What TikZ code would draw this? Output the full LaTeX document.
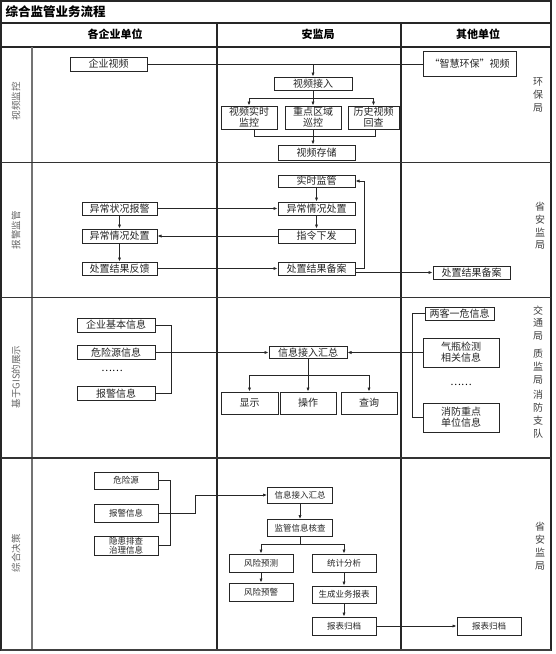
\documentclass[tikz,border=0pt]{standalone}
\usepackage{fontspec}
\setmainfont{Noto Sans CJK SC}
\usetikzlibrary{arrows.meta}
\begin{document}
\begin{tikzpicture}[x=1pt,y=-1pt,
  bx/.style={draw=black!85, line width=1pt, fill=white, inner sep=0pt, align=center,
             font=\fontsize{10}{11}\selectfont, text=black!85},
  bxs/.style={bx, font=\fontsize{8.5}{9.5}\selectfont},
  wh/.style 2 args={minimum width=#1, minimum height=#2},
  ln/.style={line width=0.7pt, draw=black!85},
  arr/.style={ln, -{Latex[length=4pt,width=3.2pt]}},
  lane/.style={rotate=90, font=\fontsize{9.5}{10}\selectfont, text=black!60},
  side/.style={align=center, font=\fontsize{10}{12.8}\selectfont, text=black!75},
  frame/.style={line width=1.1pt, draw=black!85},
  hdr/.style={font=\bfseries\fontsize{11}{12}\selectfont}
]
\useasboundingbox (0,0) rectangle (555,654);
% ---------- frame ----------
\draw[frame] (1,1) rectangle (551,650);
\draw[frame] (1,23) -- (551,23);
\draw[frame] (1,47) -- (551,47);
\draw[frame] (217,23) -- (217,650);
\draw[frame] (401,23) -- (401,650);
\draw[line width=1.8pt, draw=black!55] (32,47) -- (32,650);
\draw[line width=1.7pt, draw=black!80] (1,162.5) -- (551,162.5);
\draw[line width=1.7pt, draw=black!80] (1,297.5) -- (551,297.5);
\draw[line width=1.7pt, draw=black!80] (1,458) -- (551,458);
\draw[line width=1.8pt, draw=black!75] (1,650) -- (551,650);
% ---------- headers ----------
\node[font=\bfseries\fontsize{12.5}{14}\selectfont, anchor=west] (title) at (2,12) {综合监管业务流程};
\node[hdr] (h1) at (115,34) {各企业单位};
\node[hdr] (h2) at (318,34) {安监局};
\node[hdr] (h3) at (478,34) {其他单位};
% lane labels
\node[lane] (l1) at (16,101) {视频监控};
\node[lane] (l2) at (16,230) {报警监管};
\node[lane] (l3) at (16,377) {基于GIS的展示};
\node[lane] (l4) at (16,553) {综合决策};
% side labels
\node[side] (s1) at (538,95) {环\\保\\局};
\node[side] (s2) at (540,226) {省\\安\\监\\局};
\node[side] (s3) at (538,323) {交\\通\\局};
\node[side] (s4) at (538,367) {质\\监\\局};
\node[side] (s5) at (538,414) {消\\防\\支\\队};
\node[side] (s6) at (540,546) {省\\安\\监\\局};
% ---------- row 1 ----------
\node[bx,wh={77}{14}] (qysp) at (108.5,64) {企业视频};
\node[bx,wh={93}{25}] (zhhb) at (469.5,63.5) {“智慧环保”视频};
\node[bx,wh={78}{13}] (spjr) at (313,83.5) {视频接入};
\node[bx,wh={56}{23}] (spss) at (249,117.5) {视频实时\\监控};
\node[bx,wh={56}{23}] (zdqy) at (313,117.5) {重点区域\\巡控};
\node[bx,wh={51}{23}] (lssp) at (373.5,117.5) {历史视频\\回查};
\node[bx,wh={77}{15}] (spcc) at (316.5,152.5) {视频存储};
\draw[ln] (qysp.east) -- (zhhb.west |- qysp.east);
\draw[arr] (spjr.north |- qysp.east) -- (spjr.north);
\draw[arr] (spjr.south) -- ++(0,7.5) -| (spss.north);
\draw[arr] (spjr.south) -- ++(0,7.5) -| (lssp.north);
\draw[arr] (spjr.south) -- (zdqy.north);
\draw[ln] ([xshift=5]spss.south) -- ++(0,6.5) -| ([xshift=1.5]lssp.south);
\draw[arr] (zdqy.south) -- (zdqy.south |- spcc.north);
% ---------- row 2 ----------
\node[bx,wh={75}{13}] (ycbj) at (119.5,208.5) {异常状况报警};
\node[bx,wh={75}{14}] (yccz1) at (119.5,236) {异常情况处置};
\node[bx,wh={75}{13}] (czfk) at (119.5,268.5) {处置结果反馈};
\node[bx,wh={77}{12}] (sszg) at (316.5,181) {实时监管};
\node[bx,wh={77}{13}] (yccz2) at (316.5,208.5) {异常情况处置};
\node[bx,wh={77}{14}] (zlxf) at (316.5,236) {指令下发};
\node[bx,wh={77}{13}] (czba) at (316.5,268.5) {处置结果备案};
\node[bx,wh={77}{13}] (czba2) at (471.5,272.5) {处置结果备案};
\draw[arr] (ycbj) -- (yccz1);
\draw[arr] (yccz1) -- (czfk);
\draw[arr] (ycbj.east) -- (yccz2.west);
\draw[arr] (zlxf.west) -- (yccz1.east);
\draw[arr] (czfk.east) -- (czba.west);
\draw[arr] (sszg) -- (yccz2);
\draw[arr] (yccz2) -- (zlxf);
\draw[arr] (czba.east) -- ++(9,0) |- (sszg.east);
\draw[arr] (czba.east |- czba2.west) -- (czba2.west);
% ---------- row 3 ----------
\node[bx,wh={78}{14}] (qyjb) at (116,325) {企业基本信息};
\node[bx,wh={78}{14}] (wxy) at (116,352.5) {危险源信息};
\node[font=\fontsize{10}{11}\selectfont] (d1) at (112,371) {……};
\node[bx,wh={78}{14}] (bjxx) at (116,393.5) {报警信息};
\node[bx,wh={78}{12}] (xxjr) at (308,352.5) {信息接入汇总};
\node[bx,wh={57}{22}] (xs) at (249.5,403) {显示};
\node[bx,wh={56}{22}] (cz) at (308,403) {操作};
\node[bx,wh={56}{22}] (cx) at (369,403) {查询};
\node[bx,wh={69}{13}] (lkyw) at (459.5,313.5) {两客一危信息};
\node[bx,wh={76}{29}] (qpjc) at (461,352.5) {气瓶检测\\相关信息};
\node[font=\fontsize{10}{11}\selectfont] (d2) at (461,385) {……};
\node[bx,wh={76}{29}] (xfzd) at (461,417.5) {消防重点\\单位信息};
\draw[ln] (qyjb.east) -- ++(16,0) |- (bjxx.east);
\draw[arr] (wxy.east) -- (xxjr.west);
\draw[ln] (lkyw.west) -- ++(-12,0) |- (xfzd.west);
\draw[arr] (qpjc.west) -- (xxjr.east);
\draw[arr] (xxjr.south) -- ++(0,16) -| (xs.north);
\draw[arr] (xxjr.south) -- ++(0,16) -| (cx.north);
\draw[arr] (xxjr.south) -- (cz.north);
% ---------- row 4 ----------
\node[bxs,wh={64}{17}] (wxy4) at (126,480.5) {危险源};
\node[bxs,wh={64}{18}] (bjxx4) at (126,513) {报警信息};
\node[bxs,wh={64}{19}, font=\fontsize{8.5}{9}\selectfont] (yhpc) at (126,545.5) {隐患排查\\治理信息};
\node[bxs,wh={65}{16}] (xxjr4) at (300,495) {信息接入汇总};
\node[bxs,wh={65}{17}] (jgxx) at (300,528) {监管信息核查};
\node[bxs,wh={64}{18}] (fxyc) at (261,563) {风险预测};
\node[bxs,wh={64}{18}] (fxyj) at (261,592) {风险预警};
\node[bxs,wh={64}{18}] (tjfx) at (344,563) {统计分析};
\node[bxs,wh={64}{17}] (scyw) at (344,594.5) {生成业务报表};
\node[bxs,wh={64}{18}] (bbgd) at (344,626) {报表归档};
\node[bxs,wh={64}{18}] (bbgd2) at (489,626) {报表归档};
\draw[ln] (wxy4.east) -- ++(12,0) |- (yhpc.east);
\draw[arr] (bjxx4.east) -- ++(37,0) |- (xxjr4.west);
\draw[arr] (xxjr4) -- (jgxx);
\draw[arr] (jgxx.south) -- ++(0,7.5) -| (fxyc.north);
\draw[arr] (jgxx.south) -- ++(0,7.5) -| (tjfx.north);
\draw[arr] (fxyc) -- (fxyj);
\draw[arr] (tjfx) -- (scyw);
\draw[arr] (scyw) -- (bbgd);
\draw[arr] (bbgd) -- (bbgd2);
\end{tikzpicture}
\end{document}
